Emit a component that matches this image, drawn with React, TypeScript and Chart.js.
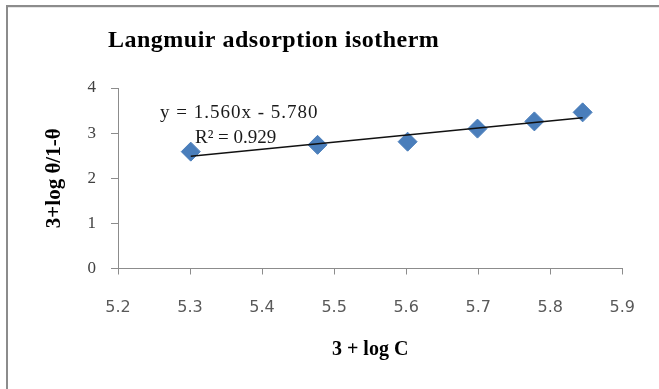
import React, { useEffect, useRef } from "react";
import { Chart, registerables } from "chart.js";

Chart.register(...registerables);

// 3 + log C (x) against 3 + log θ/(1-θ) (y)
const logC = [5.301, 5.477, 5.602, 5.699, 5.778, 5.845];
const logTheta = [2.59, 2.74, 2.81, 3.1, 3.26, 3.46];

// Linear trendline fitted to the points
const slope = 1.56;
const intercept = -5.78;
const rSquared = 0.929;

const xTicks = [5.2, 5.3, 5.4, 5.5, 5.6, 5.7, 5.8, 5.9];
const yTicks = [0, 1, 2, 3, 4];

const titleText = "Langmuir adsorption isotherm";
const xTitle = "3 + log C";
const yTitle = "3+log θ/1-θ";

const W = 659;
const H = 389;

const trendX = [Math.min(...logC), Math.max(...logC)];

const framePlugin = {
  id: "frameAndLabels",
  beforeDraw(chart: any) {
    const ctx = chart.ctx as CanvasRenderingContext2D;
    ctx.save();
    ctx.fillStyle = "#ffffff";
    ctx.fillRect(0, 0, chart.width, chart.height);
    ctx.fillStyle = "#8c8c8c";
    ctx.fillRect(6, 5, chart.width - 6, 2);
    ctx.fillRect(6, 5, 2, chart.height - 5);
    ctx.fillStyle = "#e6e6e6";
    ctx.fillRect(8, 7, chart.width - 8, 1);
    ctx.restore();
  },
  afterDraw(chart: any) {
    const ctx = chart.ctx as CanvasRenderingContext2D;
    ctx.save();
    ctx.fillStyle = "#000000";
    ctx.textAlign = "left";
    ctx.textBaseline = "alphabetic";
    (ctx as any).letterSpacing = "0.5px";
    ctx.font = "bold 24px 'Liberation Serif'";
    ctx.fillText(titleText, 108, 47);

    ctx.fillStyle = "#1a1a1a";
    ctx.font = "19px 'Liberation Serif'";
    (ctx as any).letterSpacing = "1px";
    const sign = intercept < 0 ? "-" : "+";
    ctx.fillText(
      `y = ${slope.toFixed(3)}x ${sign} ${Math.abs(intercept).toFixed(3)}`,
      160,
      118
    );
    (ctx as any).letterSpacing = "0px";
    ctx.fillText(`R² = ${rSquared.toFixed(3)}`, 195, 143);
    ctx.restore();
  },
};

export default function App() {
  const ref = useRef<HTMLCanvasElement | null>(null);

  useEffect(() => {
    if (!ref.current) return;
    const chart = new Chart(ref.current, {
      type: "scatter",
      data: {
        datasets: [
          {
            type: "line",
            label: "Linear",
            data: trendX.map((x) => ({ x, y: slope * x + intercept })),
            borderColor: "#111111",
            borderWidth: 1.5,
            pointRadius: 0,
            fill: false,
            order: 0,
          } as any,
          {
            label: "Data",
            data: logC.map((x, i) => ({ x, y: logTheta[i] })),
            pointStyle: "rectRot",
            pointRadius: 9.5,
            backgroundColor: "#4a7ebb",
            borderColor: "#4a7ebb",
            borderWidth: 1,
            order: 1,
          },
        ],
      },
      options: {
        animation: false,
        responsive: false,
        devicePixelRatio: 1,
        layout: { padding: { top: 88, right: 36, left: 0, bottom: 0 } },
        plugins: {
          legend: { display: false },
          tooltip: { enabled: false },
          title: { display: false },
        },
        scales: {
          x: {
            type: "linear",
            min: 5.2,
            max: 5.9,
            afterFit: (s: any) => {
              s.height = 120.5;
            },
            afterBuildTicks: (s: any) => {
              s.ticks = xTicks.map((value) => ({ value }));
            },
            ticks: {
              callback: (v: any) => Number(v).toFixed(1),
              color: "#595959",
              font: { family: "'DejaVu Sans'", size: 16 },
              padding: 24,
              maxRotation: 0,
            },
            grid: {
              drawOnChartArea: false,
              drawTicks: true,
              tickLength: 6,
              color: "#8c8c8c",
            },
            border: { display: true, color: "#8c8c8c", width: 1 },
            title: {
              display: true,
              text: xTitle,
              color: "#000000",
              font: { family: "'Liberation Serif'", size: 20, weight: "bold" },
              padding: { top: 0, bottom: 27 },
            },
          },
          y: {
            type: "linear",
            min: 0,
            max: 4,
            afterFit: (s: any) => {
              s.width = 118;
            },
            afterBuildTicks: (s: any) => {
              s.ticks = yTicks.map((value) => ({ value }));
            },
            ticks: {
              color: "#404040",
              font: { family: "'Liberation Serif'", size: 17 },
              padding: 15,
            },
            grid: {
              drawOnChartArea: false,
              drawTicks: true,
              tickLength: 7,
              color: "#8c8c8c",
            },
            border: { display: true, color: "#8c8c8c", width: 1 },
            title: {
              display: true,
              text: yTitle,
              color: "#000000",
              font: { family: "'Liberation Serif'", size: 21, weight: "bold" },
              padding: { top: 42, bottom: 0 },
            },
          },
        },
      },
      plugins: [framePlugin],
    });
    return () => chart.destroy();
  }, []);

  return (
    <div style={{ position: "absolute", left: 0, top: 0, width: W, height: H }}>
      <canvas ref={ref} width={W} height={H} style={{ width: W, height: H, display: "block" }} />
    </div>
  );
}
